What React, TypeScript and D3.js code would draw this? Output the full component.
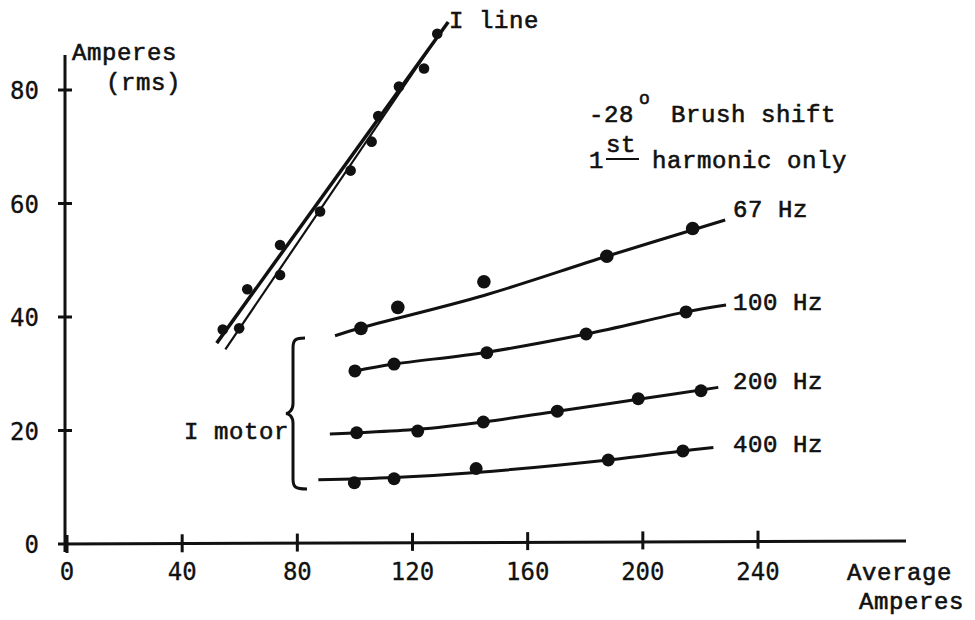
import React from "react";
import * as d3 from "d3";

const xTicks = [0, 40, 80, 120, 160, 200, 240];
const yTicks = [0, 20, 40, 60, 80];

// I line measured points
const iLineX = [54.1, 59.8, 62.6, 74.0, 74.0, 87.9, 98.5, 105.8, 108.1, 115.3, 124.0, 128.6];
const iLineY = [37.8, 38.0, 44.9, 52.7, 47.4, 58.6, 65.8, 70.9, 75.4, 80.6, 83.8, 89.9];
// I line fitted (double) lines
const iFitAX = [52.0, 132.4];
const iFitAY = [35.4, 92.0];
const iFitBX = [55.0, 129.5];
const iFitBY = [34.3, 90.0];

// I motor series
const hz67X = [102.1, 114.9, 144.8, 187.5, 217.3];
const hz67Y = [38.0, 41.7, 46.2, 50.7, 55.6];
const hz67CurveX = [93.1, 102.1, 144.8, 187.5, 228.6];
const hz67CurveY = [36.7, 38.1, 43.8, 50.7, 57.1];

const hz100X = [100.0, 113.6, 145.8, 180.3, 215.0];
const hz100Y = [30.5, 31.7, 33.7, 37.0, 40.9];
const hz100CurveX = [100.0, 113.6, 145.8, 180.3, 215.0, 228.9];
const hz100CurveY = [30.5, 31.7, 33.8, 37.0, 40.9, 42.1];

const hz200X = [100.6, 121.8, 144.6, 170.3, 198.4, 220.2];
const hz200Y = [19.6, 19.9, 21.5, 23.4, 25.6, 27.0];
const hz200CurveX = [91.3, 100.6, 121.8, 144.6, 170.3, 198.4, 226.2];
const hz200CurveY = [19.4, 19.6, 20.2, 21.5, 23.4, 25.5, 27.6];

const hz400X = [99.8, 113.6, 142.1, 188.0, 213.9];
const hz400Y = [10.8, 11.5, 13.3, 14.8, 16.4];
const hz400CurveX = [87.3, 113.6, 142.1, 188.0, 213.9, 224.5];
const hz400CurveY = [11.3, 11.7, 12.6, 14.8, 16.4, 17.0];

const seriesLabels = ["67 Hz", "100 Hz", "200 Hz", "400 Hz"];

// brace for "I motor" (data units)
const braceX = 78.5;
const braceTipX = 76.0;
const braceRange = [9.7, 36.3];

const INK = "#111";
const MONO = "'Liberation Mono', 'Courier New', monospace";
const NUM = "'DejaVu Sans Mono', 'DejaVu Sans', sans-serif";

export default function App() {
  const W = 975, H = 620;
  const x = d3.scaleLinear().domain([0, 240]).range([67, 758]);
  const y = d3.scaleLinear().domain([0, 80]).range([544, 90]);

  const line = d3
    .line<[number, number]>()
    .x((d) => x(d[0]))
    .y((d) => y(d[1]))
    .curve(d3.curveCatmullRom.alpha(0.5));
  const straight = d3
    .line<[number, number]>()
    .x((d) => x(d[0]))
    .y((d) => y(d[1]));

  const zip = (a: number[], b: number[]) => a.map((v, i) => [v, b[i]] as [number, number]);

  const motor = [
    { cx: hz67CurveX, cy: hz67CurveY, px: hz67X, py: hz67Y, r: 6.8 },
    { cx: hz100CurveX, cy: hz100CurveY, px: hz100X, py: hz100Y, r: 6.5 },
    { cx: hz200CurveX, cy: hz200CurveY, px: hz200X, py: hz200Y, r: 6.5 },
    { cx: hz400CurveX, cy: hz400CurveY, px: hz400X, py: hz400Y, r: 6.5 },
  ];
  const labelBaselines = [217, 310, 389, 452];

  // brace path
  const bx = x(braceX);
  const tipX = x(braceTipX);
  const bTop = y(braceRange[1]);
  const bBot = y(braceRange[0]);
  const bMid = (bTop + bBot) / 2;
  const curl = 12;
  const bracePath =
    `M${bx + curl},${bTop} C${bx + 2},${bTop} ${bx},${bTop + 2} ${bx},${bTop + 10} ` +
    `L${bx},${bMid - 10} C${bx},${bMid - 3} ${tipX + 3},${bMid} ${tipX},${bMid} ` +
    `C${tipX + 3},${bMid} ${bx},${bMid + 3} ${bx},${bMid + 10} ` +
    `L${bx},${bBot - 10} C${bx},${bBot - 2} ${bx + 2},${bBot} ${bx + curl + 2},${bBot}`;

  const textStyle = {
    fontFamily: MONO,
    fontSize: 24,
    fill: INK,
    letterSpacing: 0.6,
    stroke: INK,
    strokeWidth: 0.6,
  } as const;
  const numStyle = { fontFamily: NUM, fontSize: 24, fill: INK, stroke: INK, strokeWidth: 0.3 } as const;

  return (
    <svg
      width={W}
      height={H}
      viewBox={`0 0 ${W} ${H}`}
      style={{ position: "fixed", left: 0, top: 0, background: "#fff" }}
    >
      <rect width={W} height={H} fill="#fff" />
      {/* axes */}
      <line x1={x(0) - 2} y1={55} x2={x(0) - 2} y2={y(0) + 8} stroke={INK} strokeWidth={3} />
      <line x1={x(0) - 9} y1={y(0)} x2={906} y2={y(0) - 3} stroke={INK} strokeWidth={3} />
      {xTicks.map((t) => (
        <g key={"xt" + t}>
          <line x1={x(t)} x2={x(t)} y1={y(0) - 9 - t * 0.018} y2={y(0) + 9 - t * 0.018} stroke={INK} strokeWidth={3} />
          <text x={x(t)} y={580} textAnchor="middle" style={numStyle}>
            {t}
          </text>
        </g>
      ))}
      {yTicks.map((t) => (
        <g key={"yt" + t}>
          {t > 0 && (
            <line x1={x(0) - 9} x2={x(0) + 5} y1={y(t)} y2={y(t)} stroke={INK} strokeWidth={3} />
          )}
          <text x={39} y={y(t) + 9} textAnchor="end" style={numStyle}>
            {t}
          </text>
        </g>
      ))}

      {/* axis titles */}
      <text x={72} y={60} style={textStyle}>Amperes</text>
      <text x={106} y={90} style={textStyle}>(rms)</text>
      <text x={847} y={580} style={textStyle}>Average</text>
      <text x={859} y={609} style={textStyle}>Amperes</text>

      {/* I line: double fitted line */}
      <path d={straight(zip(iFitAX, iFitAY)) || ""} fill="none" stroke={INK} strokeWidth={3.5} />
      <path d={straight(zip(iFitBX, iFitBY)) || ""} fill="none" stroke={INK} strokeWidth={2.2} />
      {iLineX.map((v, i) => (
        <circle key={"il" + i} cx={x(v)} cy={y(iLineY[i])} r={5.3} fill={INK} />
      ))}
      <text x={449} y={28} style={textStyle}>I line</text>

      {/* I motor series */}
      {motor.map((s, k) => (
        <g key={"m" + k}>
          <path d={line(zip(s.cx, s.cy)) || ""} fill="none" stroke={INK} strokeWidth={3} />
          {s.px.map((v, i) => (
            <circle key={i} cx={x(v)} cy={y(s.py[i])} r={s.r} fill={INK} />
          ))}
          <text x={733} y={labelBaselines[k]} style={textStyle}>
            {seriesLabels[k]}
          </text>
        </g>
      ))}

      {/* brace + I motor label */}
      <path d={bracePath} fill="none" stroke={INK} strokeWidth={3} />
      <text x={289} y={439} textAnchor="end" style={textStyle}>I motor</text>

      {/* annotation */}
      <text x={589} y={122} style={textStyle}>-28</text>
      <text x={639} y={104} style={{ ...textStyle, fontSize: 18 }}>o</text>
      <text x={671} y={122} style={textStyle}>Brush shift</text>
      <text x={589} y={168} style={textStyle}>1</text>
      <text x={606} y={152} style={textStyle}>st</text>
      <line x1={606} x2={639} y1={159} y2={159} stroke={INK} strokeWidth={2} />
      <text x={652} y={168} style={textStyle}>harmonic only</text>
    </svg>
  );
}
